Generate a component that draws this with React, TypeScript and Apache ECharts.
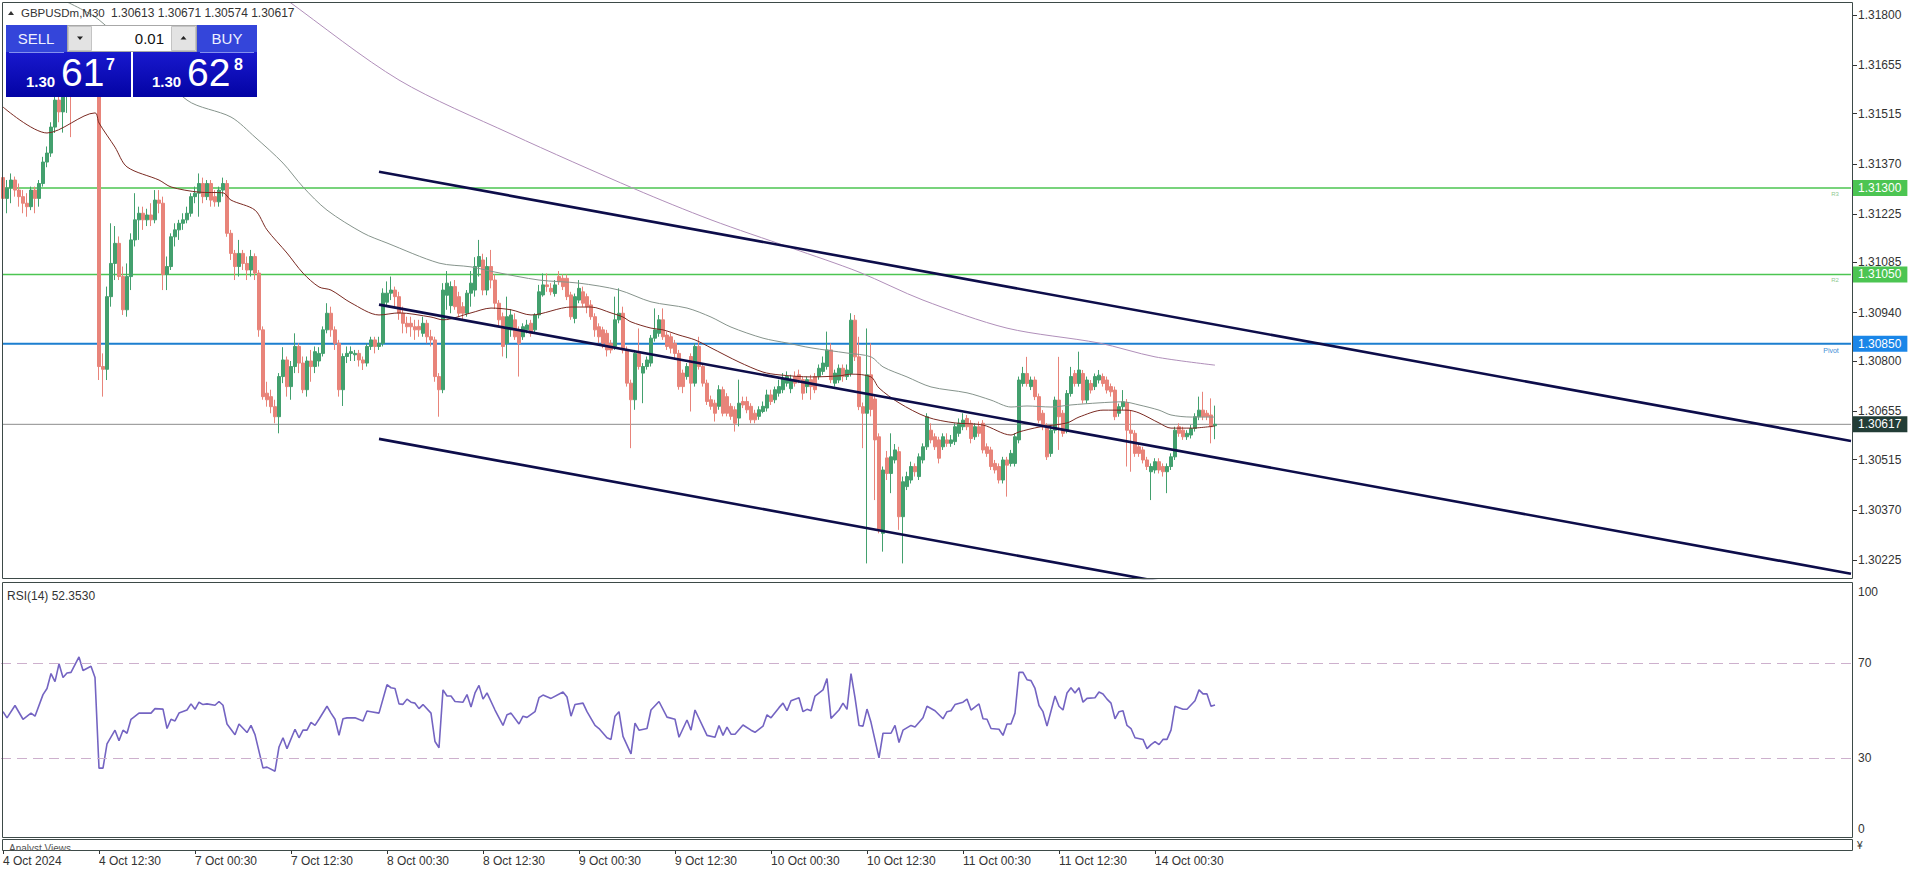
import React, { useEffect, useRef } from 'react';
import * as echarts from 'echarts';

// ---------- axis data ----------
const SLOT_COUNT = 463; // bars + empty future space (M30 slots)
const PRICE_MIN = 1.3017283;
const PRICE_MAX = 1.3183468;
const PRICE_TICKS = [1.30225, 1.3037, 1.30515, 1.30655, 1.308, 1.3094, 1.31085, 1.31225, 1.3137, 1.31515, 1.31655, 1.318];
const RSI_TICKS = [0, 30, 70, 100];
const TIME_LABELS: [number, string][] = [
  [0, '4 Oct 2024'], [24, '4 Oct 12:30'], [48, '7 Oct 00:30'], [72, '7 Oct 12:30'],
  [96, '8 Oct 00:30'], [120, '8 Oct 12:30'], [144, '9 Oct 00:30'], [168, '9 Oct 12:30'],
  [192, '10 Oct 00:30'], [216, '10 Oct 12:30'], [240, '11 Oct 00:30'], [264, '11 Oct 12:30'],
  [288, '14 Oct 00:30'],
];

// ---------- candles [open, close, low, high] ----------
const oct04 = [
  [1.3133, 1.3127, 1.31246, 1.31342], [1.3127, 1.313, 1.31227, 1.31323], [1.313, 1.31323, 1.31256, 1.31342],
  [1.31323, 1.31294, 1.31275, 1.31333], [1.31294, 1.31275, 1.31246, 1.31313], [1.31275, 1.31256, 1.31227, 1.31294],
  [1.31256, 1.31246, 1.31217, 1.31285], [1.31246, 1.31294, 1.31236, 1.31304], [1.31294, 1.3127, 1.31227, 1.31304],
  [1.3127, 1.31313, 1.31246, 1.31323], [1.31313, 1.31375, 1.31304, 1.3139], [1.31375, 1.31401, 1.3136, 1.3142],
  [1.31401, 1.31476, 1.3139, 1.3149], [1.31476, 1.31554, 1.31459, 1.31575], [1.31554, 1.3152, 1.3149, 1.3159],
  [1.3152, 1.3158, 1.3146, 1.3161], [1.3158, 1.316, 1.31517, 1.3163], [1.316, 1.3157, 1.31447, 1.3164],
  [1.3157, 1.3162, 1.31565, 1.3165], [1.3162, 1.316, 1.31575, 1.3166], [1.316, 1.31635, 1.3158, 1.3166],
  [1.31635, 1.31655, 1.316, 1.3169], [1.31655, 1.3162, 1.316, 1.3168], [1.3162, 1.31605, 1.3158, 1.3165],
  [1.31605, 1.30784, 1.30745, 1.3165], [1.30784, 1.30776, 1.30697, 1.30822], [1.30776, 1.30986, 1.30745, 1.31015],
  [1.30986, 1.31082, 1.30957, 1.31198], [1.31082, 1.3114, 1.31034, 1.3119], [1.3114, 1.31044, 1.31034, 1.3116],
  [1.31044, 1.30948, 1.30933, 1.31073], [1.30948, 1.31044, 1.30928, 1.31082], [1.31044, 1.3115, 1.31005, 1.31169],
  [1.3115, 1.31208, 1.31131, 1.31285], [1.31208, 1.31227, 1.3115, 1.31246], [1.31227, 1.31208, 1.31179, 1.31246],
  [1.31208, 1.31222, 1.3119, 1.3124], [1.31222, 1.31208, 1.3119, 1.31256], [1.31208, 1.31265, 1.31198, 1.31294],
  [1.31265, 1.31256, 1.31227, 1.31294], [1.31256, 1.3105, 1.31005, 1.31275], [1.3105, 1.31073, 1.31005, 1.31102],
  [1.31073, 1.31159, 1.31063, 1.31169], [1.31159, 1.31179, 1.31131, 1.31198], [1.31179, 1.31198, 1.3115, 1.31208],
  [1.31198, 1.31208, 1.31179, 1.31227], [1.31208, 1.31227, 1.31198, 1.31246],
];
const oct07 = [
  [1.31227, 1.31275, 1.31217, 1.31285], [1.31275, 1.31285, 1.31256, 1.31304], [1.31285, 1.31313, 1.31217, 1.31342],
  [1.31313, 1.31275, 1.31256, 1.3133], [1.31275, 1.31313, 1.31265, 1.31323], [1.31313, 1.31265, 1.31246, 1.31323],
  [1.31275, 1.3126, 1.31246, 1.31294], [1.3126, 1.31294, 1.31246, 1.31304], [1.31294, 1.31313, 1.31275, 1.3133],
  [1.31313, 1.31169, 1.31159, 1.31323], [1.31169, 1.31111, 1.31092, 1.31179], [1.31111, 1.31073, 1.31034, 1.31121],
  [1.31073, 1.31111, 1.31044, 1.3115], [1.31111, 1.31082, 1.31063, 1.31121], [1.31082, 1.31063, 1.31034, 1.31102],
  [1.31063, 1.31102, 1.31044, 1.31121], [1.31102, 1.31054, 1.31034, 1.31111], [1.31054, 1.3089, 1.3087, 1.31063],
  [1.3089, 1.30697, 1.30688, 1.309], [1.30707, 1.30688, 1.30668, 1.3074], [1.30697, 1.30668, 1.30649, 1.30717],
  [1.30668, 1.30639, 1.3062, 1.30688], [1.30639, 1.30755, 1.30591, 1.30765], [1.30755, 1.30803, 1.30736, 1.3084],
  [1.30803, 1.30726, 1.30697, 1.30813], [1.30726, 1.30784, 1.30688, 1.308], [1.30784, 1.30842, 1.30765, 1.3088],
  [1.30842, 1.30794, 1.30765, 1.30851], [1.30794, 1.30717, 1.30707, 1.30813], [1.30717, 1.308, 1.30697, 1.30813],
  [1.308, 1.30784, 1.3074, 1.30832], [1.30784, 1.30827, 1.30765, 1.30842], [1.308, 1.30822, 1.30784, 1.3084],
  [1.30822, 1.3089, 1.30813, 1.309], [1.3089, 1.30938, 1.3088, 1.30967], [1.30938, 1.3089, 1.3087, 1.30957],
  [1.3089, 1.30851, 1.30832, 1.309], [1.30851, 1.30717, 1.30697, 1.30861], [1.30717, 1.30813, 1.3067, 1.30822],
  [1.30813, 1.30822, 1.30794, 1.30842], [1.30822, 1.30827, 1.308, 1.30842], [1.30818, 1.30822, 1.308, 1.30832],
  [1.30822, 1.30803, 1.30784, 1.30832], [1.30803, 1.30794, 1.30774, 1.30813], [1.30794, 1.30842, 1.30784, 1.30851],
  [1.30842, 1.30861, 1.30832, 1.3087], [1.30861, 1.30842, 1.30822, 1.3087], [1.30842, 1.30851, 1.30832, 1.3087],
];
const oct08 = [
  [1.30851, 1.30996, 1.30842, 1.3101], [1.3097, 1.30996, 1.3096, 1.3103], [1.30996, 1.31005, 1.30976, 1.31044],
  [1.31005, 1.30986, 1.30957, 1.31015], [1.30986, 1.30938, 1.30919, 1.31], [1.30938, 1.30909, 1.3088, 1.30957],
  [1.30909, 1.30899, 1.3088, 1.30928], [1.30909, 1.30899, 1.3087, 1.30928], [1.30899, 1.3089, 1.30861, 1.30919],
  [1.309, 1.3089, 1.3087, 1.30919], [1.3088, 1.30909, 1.3087, 1.30928], [1.30909, 1.3087, 1.30851, 1.30919],
  [1.3087, 1.30861, 1.30842, 1.3089], [1.30861, 1.30755, 1.3074, 1.3087], [1.30755, 1.30717, 1.30639, 1.30765],
  [1.30717, 1.31005, 1.30707, 1.31025], [1.3099, 1.31025, 1.30948, 1.3106], [1.3096, 1.31015, 1.30938, 1.3103],
  [1.31015, 1.30957, 1.30948, 1.31034], [1.30986, 1.30938, 1.30928, 1.31], [1.30957, 1.30938, 1.30919, 1.3097],
  [1.30938, 1.30996, 1.30928, 1.31005], [1.30996, 1.31025, 1.30957, 1.3106], [1.31005, 1.31073, 1.30986, 1.311],
  [1.31073, 1.31102, 1.31044, 1.3115], [1.31092, 1.31005, 1.3099, 1.3111], [1.31005, 1.31073, 1.3099, 1.311],
  [1.31073, 1.31034, 1.3101, 1.31121], [1.31034, 1.30967, 1.3095, 1.3105], [1.30967, 1.30919, 1.309, 1.30976],
  [1.30928, 1.30842, 1.30813, 1.3094], [1.30851, 1.30928, 1.30808, 1.30986], [1.3089, 1.30933, 1.3087, 1.3095],
  [1.30919, 1.3087, 1.30861, 1.30938], [1.3089, 1.30851, 1.30755, 1.309], [1.3087, 1.30899, 1.30861, 1.30909],
  [1.3089, 1.30904, 1.3088, 1.30919], [1.30909, 1.3088, 1.3087, 1.30919], [1.3089, 1.30933, 1.3088, 1.30938],
  [1.30933, 1.31, 1.30923, 1.3102], [1.30991, 1.3102, 1.30986, 1.31053], [1.3102, 1.31015, 1.31, 1.31053],
  [1.3101, 1.31, 1.3099, 1.31025], [1.30995, 1.3102, 1.30986, 1.31034], [1.31044, 1.31029, 1.3102, 1.3106],
  [1.31039, 1.31015, 1.31005, 1.3105], [1.31039, 1.30986, 1.30976, 1.3105], [1.30991, 1.30928, 1.30919, 1.31],
];
const oct09 = [
  [1.30923, 1.30986, 1.30909, 1.30995], [1.30976, 1.3101, 1.30967, 1.31034], [1.31, 1.30967, 1.30957, 1.31015],
  [1.30986, 1.30957, 1.30938, 1.30995], [1.30962, 1.30928, 1.30919, 1.30976], [1.30928, 1.3089, 1.3087, 1.30938],
  [1.30899, 1.3087, 1.30851, 1.30909], [1.3089, 1.30851, 1.30837, 1.30899], [1.3088, 1.30832, 1.30813, 1.3089],
  [1.30851, 1.30832, 1.30822, 1.30861], [1.30842, 1.30919, 1.30832, 1.30986], [1.30919, 1.30938, 1.30909, 1.3101],
  [1.30938, 1.30832, 1.30822, 1.30957], [1.30832, 1.30736, 1.30726, 1.30842], [1.30736, 1.30688, 1.30548, 1.30746],
  [1.30688, 1.30822, 1.30659, 1.30832], [1.30822, 1.30784, 1.30775, 1.30894], [1.30765, 1.30784, 1.30678, 1.30794],
  [1.30784, 1.30803, 1.30775, 1.30813], [1.30794, 1.30866, 1.30784, 1.30875], [1.30866, 1.3089, 1.30856, 1.30952],
  [1.3088, 1.30919, 1.3087, 1.30933], [1.30919, 1.3087, 1.30861, 1.30952], [1.30875, 1.30842, 1.30832, 1.30885],
  [1.3087, 1.30837, 1.30822, 1.3088], [1.30851, 1.30822, 1.30803, 1.30861], [1.30822, 1.30726, 1.30717, 1.30832],
  [1.30765, 1.30726, 1.30707, 1.30775], [1.30755, 1.30784, 1.30746, 1.30794], [1.30813, 1.30736, 1.30654, 1.30822],
  [1.30736, 1.30842, 1.30726, 1.30851], [1.30842, 1.30784, 1.30775, 1.3087], [1.30784, 1.30736, 1.30726, 1.30794],
  [1.30736, 1.30683, 1.30673, 1.30746], [1.30688, 1.30669, 1.30659, 1.307], [1.30678, 1.30649, 1.30625, 1.30688],
  [1.30669, 1.30717, 1.30659, 1.3073], [1.30717, 1.30649, 1.3064, 1.30726], [1.30697, 1.30649, 1.3064, 1.30707],
  [1.30669, 1.3064, 1.3063, 1.30678], [1.30659, 1.3062, 1.30596, 1.30669], [1.30635, 1.30678, 1.30611, 1.30746],
  [1.30683, 1.30673, 1.30664, 1.30697], [1.30683, 1.30659, 1.30649, 1.30697], [1.30669, 1.3063, 1.3062, 1.30678],
  [1.30649, 1.3063, 1.3062, 1.30659], [1.3064, 1.30659, 1.3063, 1.30669], [1.30654, 1.30669, 1.30649, 1.30683],
];
const oct10 = [
  [1.30664, 1.30702, 1.30654, 1.30717], [1.30702, 1.30683, 1.30673, 1.30717], [1.30688, 1.30717, 1.30678, 1.30726],
  [1.30707, 1.30726, 1.30697, 1.30746], [1.30717, 1.3075, 1.30707, 1.30765], [1.30736, 1.30755, 1.30726, 1.3077],
  [1.3072, 1.30746, 1.30707, 1.3076], [1.30755, 1.30736, 1.30726, 1.3077], [1.3076, 1.30746, 1.30736, 1.30775],
  [1.30746, 1.30707, 1.30688, 1.30755], [1.30726, 1.30746, 1.30707, 1.30755], [1.30746, 1.30726, 1.30688, 1.3076],
  [1.30755, 1.30717, 1.30707, 1.30765], [1.30755, 1.30779, 1.30746, 1.3079], [1.3077, 1.30794, 1.3076, 1.30813],
  [1.30784, 1.30832, 1.30775, 1.30885], [1.30832, 1.30746, 1.30736, 1.30851], [1.30736, 1.30765, 1.30726, 1.30775],
  [1.30745, 1.30779, 1.30736, 1.3079], [1.30779, 1.30755, 1.3074, 1.3079], [1.30755, 1.30774, 1.30745, 1.3079],
  [1.30764, 1.30918, 1.30755, 1.30938], [1.30918, 1.30812, 1.308, 1.30933], [1.30812, 1.30668, 1.30658, 1.3087],
  [1.30668, 1.30649, 1.30548, 1.3068], [1.30649, 1.3076, 1.30215, 1.30894], [1.3076, 1.3066, 1.3064, 1.30851],
  [1.3069, 1.30572, 1.30398, 1.307], [1.30581, 1.30312, 1.30302, 1.30591], [1.30302, 1.30485, 1.30249, 1.30495],
  [1.3052, 1.30475, 1.30456, 1.3054], [1.30475, 1.30523, 1.30418, 1.30591], [1.30514, 1.30543, 1.30504, 1.3056],
  [1.30538, 1.3035, 1.30312, 1.30552], [1.3035, 1.30451, 1.30215, 1.30466], [1.30437, 1.30466, 1.30427, 1.3048],
  [1.30456, 1.30495, 1.30446, 1.30509], [1.30495, 1.3048, 1.30466, 1.30504], [1.30466, 1.30523, 1.30456, 1.30533],
  [1.30514, 1.30552, 1.30504, 1.30562], [1.30552, 1.30639, 1.30543, 1.30649], [1.306, 1.30572, 1.30562, 1.3062],
  [1.30581, 1.30552, 1.30543, 1.30591], [1.30572, 1.30519, 1.30504, 1.30581], [1.30552, 1.30581, 1.30543, 1.30591],
  [1.30572, 1.30562, 1.30552, 1.30591], [1.30562, 1.30572, 1.30552, 1.30586], [1.30567, 1.3061, 1.30557, 1.3062],
];
const oct11 = [
  [1.30591, 1.3062, 1.30581, 1.30634], [1.3061, 1.30629, 1.306, 1.30649], [1.30634, 1.3061, 1.306, 1.30644],
  [1.3062, 1.30576, 1.30562, 1.30629], [1.30581, 1.3061, 1.30572, 1.3062], [1.3061, 1.30591, 1.30581, 1.30625],
  [1.3062, 1.30543, 1.30533, 1.30629], [1.30552, 1.30533, 1.30523, 1.30562], [1.30543, 1.30495, 1.30485, 1.30552],
  [1.30504, 1.30485, 1.30475, 1.30514], [1.30495, 1.30456, 1.30446, 1.30504], [1.30456, 1.30514, 1.30446, 1.30523],
  [1.30514, 1.30499, 1.30408, 1.30523], [1.30504, 1.30533, 1.30495, 1.30543], [1.30504, 1.30581, 1.30495, 1.30591],
  [1.30572, 1.30745, 1.30562, 1.30755], [1.30735, 1.30764, 1.30726, 1.30783], [1.30764, 1.30735, 1.30726, 1.30812],
  [1.30726, 1.30745, 1.30716, 1.30755], [1.30745, 1.30697, 1.30687, 1.30755], [1.30697, 1.30629, 1.3062, 1.30706],
  [1.30649, 1.3061, 1.306, 1.30658], [1.3061, 1.30523, 1.30514, 1.3062], [1.30533, 1.306, 1.30523, 1.3061],
  [1.306, 1.30687, 1.30591, 1.30697], [1.30687, 1.30639, 1.30543, 1.30812], [1.30649, 1.30591, 1.30581, 1.30658],
  [1.306, 1.30706, 1.30591, 1.30716], [1.30706, 1.30755, 1.30697, 1.30783], [1.30764, 1.30735, 1.30726, 1.30774],
  [1.30735, 1.30774, 1.30726, 1.30827], [1.30764, 1.30687, 1.30677, 1.30774], [1.30687, 1.30745, 1.30677, 1.30755],
  [1.30735, 1.30716, 1.30706, 1.30745], [1.30726, 1.30755, 1.30716, 1.30764], [1.30745, 1.30759, 1.30735, 1.30774],
  [1.30755, 1.30735, 1.30726, 1.30764], [1.30745, 1.30716, 1.30706, 1.30755], [1.30726, 1.30711, 1.30697, 1.30735],
  [1.30716, 1.30639, 1.30629, 1.30726], [1.30649, 1.30668, 1.30639, 1.30677], [1.30668, 1.30682, 1.30658, 1.30716],
  [1.3068, 1.306, 1.30495, 1.3069], [1.306, 1.30591, 1.3048, 1.30658], [1.30591, 1.30533, 1.30523, 1.306],
  [1.30552, 1.30533, 1.30523, 1.30562], [1.30543, 1.30514, 1.30504, 1.30552], [1.30514, 1.30495, 1.30485, 1.30523],
];
const oct14 = [
  [1.3048, 1.30495, 1.30398, 1.30504], [1.30485, 1.30509, 1.30475, 1.30519], [1.30509, 1.30485, 1.30475, 1.30519],
  [1.30495, 1.3048, 1.30466, 1.30504], [1.3048, 1.30495, 1.30418, 1.30504], [1.30495, 1.30523, 1.30485, 1.30533],
  [1.30523, 1.306, 1.30514, 1.3061], [1.3061, 1.30591, 1.30581, 1.3062], [1.306, 1.30581, 1.30572, 1.3061],
  [1.30581, 1.30591, 1.30572, 1.306], [1.30586, 1.30605, 1.30576, 1.30615], [1.30605, 1.30639, 1.30596, 1.30649],
  [1.30639, 1.30658, 1.30629, 1.30697], [1.30658, 1.30639, 1.30629, 1.30711], [1.30649, 1.30639, 1.30629, 1.30658],
  [1.30644, 1.3061, 1.30562, 1.30692], [1.30613, 1.30617, 1.30574, 1.30671],
];

// ---------- moving averages [bar index, price] ----------
const MA_FAST: [number, number][] = [
  [0, 1.31534], [11, 1.31459], [23, 1.31517], [24, 1.31488], [28, 1.31418], [31, 1.31361], [39, 1.31323],
  [42, 1.31303], [49, 1.31288], [55, 1.31286], [57, 1.31265], [63, 1.31236], [66, 1.31179], [71, 1.31112],
  [75, 1.31054], [79, 1.31014], [82, 1.31005], [87, 1.30968], [94, 1.30933], [99, 1.30939], [107, 1.30927],
  [110, 1.30919], [117, 1.30939], [122, 1.30953], [127, 1.30948], [132, 1.30933], [142, 1.30956], [147, 1.30956],
  [152, 1.30939], [155, 1.30927], [157, 1.30913], [162, 1.30895], [165, 1.3089], [169, 1.30875], [173, 1.30861],
  [177, 1.30838], [184, 1.30797], [190, 1.30768], [194, 1.3076], [202, 1.30754], [209, 1.30757], [212, 1.30762],
  [217, 1.30754], [219, 1.30722], [224, 1.30679], [231, 1.30638], [238, 1.30621], [245, 1.30615], [252, 1.30586],
  [254, 1.30595], [259, 1.30609], [266, 1.30621], [269, 1.30638], [275, 1.30658], [281, 1.30658], [284, 1.3065],
  [289, 1.30621], [292, 1.30606], [297, 1.30606], [303, 1.30612],
];
const MA_MID: [number, number][] = [
  [15, 1.31843], [24, 1.31786], [46, 1.31554], [57, 1.31505], [63, 1.31447], [70, 1.31372], [75, 1.31303],
  [81, 1.31236], [90, 1.3117], [96, 1.31141], [109, 1.31083], [117, 1.31072], [123, 1.31057], [134, 1.31034],
  [144, 1.31025], [154, 1.31005], [162, 1.30971], [171, 1.30953], [177, 1.30927], [182, 1.30898], [190, 1.30866],
  [196, 1.30852], [202, 1.30838], [211, 1.30823], [217, 1.30812], [220, 1.30783], [226, 1.30754], [232, 1.30725],
  [241, 1.30708], [247, 1.30687], [252, 1.30667], [256, 1.3067], [262, 1.30667], [267, 1.30673], [274, 1.30679],
  [280, 1.30682], [284, 1.30673], [289, 1.30658], [292, 1.30644], [297, 1.30638], [303, 1.30638],
];
const MA_SLOW: [number, number][] = [
  [49, 1.3203], [71, 1.31843], [99, 1.31612], [127, 1.31456], [158, 1.31297], [177, 1.31208], [197, 1.31127],
  [214, 1.31057], [230, 1.30976], [251, 1.30895], [274, 1.30852], [288, 1.30812], [303, 1.30788],
];

// ---------- RSI(14) [bar index, value] ----------
const RSI_14: [number, number][] = [
  [0, 49.5], [1, 46.9], [3, 52.1], [5, 46.3], [7, 48.9], [8, 47.6], [10, 56.7], [11, 59.3], [12, 65.6], [13, 62.2],
  [14, 69.7], [15, 63.9], [16, 65.8], [17, 66.1], [19, 72.6], [20, 66.9], [22, 68.7], [23, 63.9], [24, 25.7],
  [25, 25.7], [26, 35.9], [28, 41.7], [29, 37.2], [30, 41.7], [31, 40.4], [32, 46.3], [34, 48.9], [37, 48.9],
  [38, 50.8], [40, 50.6], [41, 42.4], [42, 46.3], [43, 45.6], [44, 48.9], [46, 50.2], [47, 52.8], [48, 50.5],
  [49, 53.5], [50, 52.5], [51, 52.8], [53, 52.2], [54, 53.8], [55, 52.2], [56, 44.3], [58, 39.8], [59, 44.3],
  [61, 40.7], [62, 43.7], [63, 39.8], [65, 25.7], [66, 26.1], [68, 24.4], [69, 34.6], [70, 38.5], [71, 33.9],
  [73, 42.1], [74, 38.5], [75, 41.7], [76, 41.7], [77, 45], [78, 43.7], [79, 46.3], [81, 51.8], [82, 48.9],
  [83, 46.3], [84, 39.5], [85, 46.5], [86, 46.9], [88, 46.9], [90, 45.6], [91, 49.8], [92, 49.5], [94, 48.9],
  [96, 60.9], [97, 59.6], [98, 59.3], [99, 52.8], [100, 52.6], [101, 54.8], [102, 53.5], [103, 53.1], [104, 50.8],
  [105, 52.5], [107, 48.9], [108, 36.9], [109, 34.3], [110, 58.7], [111, 56.1], [112, 56.1], [113, 53.8],
  [115, 53.5], [116, 56.7], [117, 51.5], [118, 57.4], [119, 60.6], [120, 54.8], [121, 57.4], [123, 50.2],
  [125, 43.7], [126, 48.2], [127, 48.9], [129, 44.3], [130, 47.6], [131, 47.1], [133, 49.5], [134, 55.4],
  [135, 56.5], [137, 55.1], [140, 57.8], [141, 55.7], [142, 47.6], [143, 52.5], [145, 53.1], [146, 49.5],
  [148, 43.7], [149, 42.4], [151, 38.5], [152, 37.8], [153, 47.6], [154, 49.5], [155, 39.1], [157, 31.7],
  [158, 44.7], [159, 41.7], [161, 42.4], [162, 50.2], [164, 53.8], [166, 47.2], [168, 46.3], [169, 38.7],
  [171, 46], [172, 41.7], [173, 50.2], [176, 39.5], [178, 38.7], [179, 43.7], [180, 39.5], [181, 43], [182, 40],
  [183, 40], [185, 43.9], [187, 41.7], [188, 40.8], [190, 43.4], [191, 48.2], [192, 46.9], [194, 51.2],
  [195, 53.1], [196, 49.9], [197, 54.1], [199, 55.4], [200, 49.5], [201, 50.5], [202, 49.9], [203, 56.1],
  [205, 58.7], [206, 63.5], [207, 46.7], [209, 50.2], [210, 53.1], [211, 50.5], [212, 65.6], [213, 55.4],
  [214, 43.7], [215, 43.4], [216, 50.6], [217, 45], [219, 30], [220, 40.4], [222, 40.4], [223, 43.7], [224, 36.5],
  [225, 41.7], [227, 43.7], [228, 43], [230, 46.9], [231, 51.8], [233, 49.9], [235, 46.5], [236, 49.5],
  [237, 49.9], [238, 52.5], [240, 53.5], [241, 54.8], [242, 50.2], [244, 52.8], [245, 46.5], [246, 46.3],
  [247, 42.4], [249, 42.1], [250, 39.5], [251, 44.3], [252, 44.3], [253, 48.9], [254, 66.1], [255, 66.1],
  [256, 63], [257, 62.6], [258, 59.3], [259, 52.1], [260, 49.5], [261, 43.4], [263, 56.1], [264, 51.8],
  [265, 50.2], [266, 57.4], [267, 59.6], [268, 57.4], [269, 59.6], [270, 53.5], [271, 55.1], [273, 55.4],
  [274, 57.8], [275, 57], [276, 54.8], [277, 53.1], [278, 46.5], [279, 49.5], [280, 49.9], [281, 43.7],
  [282, 42.4], [283, 38.5], [285, 37.8], [286, 33.9], [287, 35.6], [288, 36.9], [289, 35.6], [290, 37.8],
  [291, 37.8], [292, 41.7], [293, 51.8], [295, 50.5], [296, 50.5], [298, 54.1], [299, 58.7], [300, 57],
  [301, 57], [302, 51.8], [303, 52.35],
];

// ---------- channel trendlines [bar index, price] ----------
const CHANNEL_UPPER: [number, number][] = [[94, 1.31347], [462, 1.30569]];
const CHANNEL_MID: [number, number][] = [[94, 1.30963], [462, 1.30185]];
const CHANNEL_LOW: [number, number][] = [[94, 1.30575], [462, 1.29797]];

// ---------- horizontal levels ----------
const LEVEL_NAMES = ['R3', 'R2', 'Pivot', ''];
const LEVEL_VALUES = [1.313, 1.3105, 1.3085, 1.30617];
const LEVEL_COLORS = ['#4cc552', '#4cc552', '#1c7fd0', '#8c8c8c'];
const LEVEL_TAG_BG = ['#4cc552', '#4cc552', '#1a86e8', '#223d36'];
const LEVEL_WIDTHS = [1.5, 1.5, 2, 1];
const LEVEL_NAME_SLOT = [458, 458, 457, 0];

const FONT = '"Liberation Sans", Arial, sans-serif';
const TXT = '#333333';

export default function App() {
  const ref = useRef<HTMLDivElement>(null);

  useEffect(() => {
    if (!ref.current) return;
    const chart = echarts.init(ref.current, undefined, { renderer: 'svg' });

    const ohlc = [...oct04, ...oct07, ...oct08, ...oct09, ...oct10, ...oct11, ...oct14].map(
      ([o, c, l, h]) => [o, c, Math.min(l, o, c), Math.max(h, o, c)]
    );
    const cats: string[] = Array.from({ length: SLOT_COUNT }, () => '');
    TIME_LABELS.forEach(([i, s]) => { cats[i] = s; });
    const isLabel = (_i: number, v: string) => v !== '';

    // one line series per horizontal level, across the whole price pane, with its price tag
    const levelSeries = LEVEL_VALUES.map((v, k) => {
      const data: any[] = [[0, v]];
      if (LEVEL_NAMES[k]) {
        data.push({
          value: [LEVEL_NAME_SLOT[k], v],
          label: {
            show: true, position: 'bottom', distance: 3, formatter: LEVEL_NAMES[k],
            color: k === 2 ? '#3f8fd6' : '#8fc98f', fontSize: k === 2 ? 7 : 6, fontFamily: FONT,
          },
        });
      }
      data.push([SLOT_COUNT - 1, v]);
      return {
        type: 'line', xAxisIndex: 0, yAxisIndex: 0, data, silent: true, z: 1,
        showSymbol: true, symbol: 'circle', symbolSize: 0,
        label: { show: false },
        lineStyle: { color: LEVEL_COLORS[k], width: LEVEL_WIDTHS[k] },
        endLabel: {
          show: true, formatter: v.toFixed(5), distance: 2,
          backgroundColor: LEVEL_TAG_BG[k], color: '#ffffff', fontSize: 12, fontFamily: FONT,
          padding: [2, 6, 1, 5], lineHeight: 13,
        },
      };
    });

    const navy = '#0d0d4a';
    const trend = (data: [number, number][]) => ({
      type: 'line', xAxisIndex: 0, yAxisIndex: 0, data, showSymbol: false, symbol: 'none',
      lineStyle: { color: navy, width: 2.6 }, z: 4, silent: true, clip: true,
    });
    const ma = (data: [number, number][], color: string) => ({
      type: 'line', xAxisIndex: 0, yAxisIndex: 0, data, showSymbol: false, symbol: 'none', smooth: 0.3,
      lineStyle: { color, width: 1 }, z: 3, silent: true, clip: true,
    });

    const grad = (c0: string, c1: string, c2: string) => new echarts.graphic.LinearGradient(0, 0, 0, 1, [
      { offset: 0, color: c0 }, { offset: 0.4, color: c1 }, { offset: 1, color: c2 },
    ]);

    const g: any[] = [
      // panel frames
      { type: 'rect', shape: { x: 2.5, y: 2.5, width: 1850, height: 576 }, style: { fill: 'none', stroke: '#3d4a48', lineWidth: 1 }, z: 50, silent: true },
      { type: 'rect', shape: { x: 2.5, y: 582.5, width: 1850, height: 255 }, style: { fill: 'none', stroke: '#3d4a48', lineWidth: 1 }, z: 50, silent: true },
      { type: 'rect', shape: { x: 2.5, y: 839.5, width: 1850, height: 11 }, style: { fill: 'none', stroke: '#3d4a48', lineWidth: 1 }, z: 50, silent: true },
      // header
      { type: 'polygon', shape: { points: [[8, 15], [14, 15], [11, 11]] }, style: { fill: '#333' }, z: 60 },
      { type: 'text', x: 21, y: 13, style: { text: 'GBPUSDm,M30', font: `11.5px ${FONT}`, fill: TXT, verticalAlign: 'middle' }, z: 60 },
      { type: 'text', x: 111, y: 13, style: { text: '1.30613 1.30671 1.30574 1.30617', font: `12px ${FONT}`, fill: TXT, verticalAlign: 'middle' }, z: 60 },
      // one click trading panel
      { type: 'rect', shape: { x: 6, y: 25, width: 125, height: 72 }, style: { fill: grad('#2c3ad8', '#1818cc', '#0303a4') }, z: 100 },
      { type: 'rect', shape: { x: 133, y: 25, width: 124, height: 72 }, style: { fill: grad('#2c3ad8', '#1818cc', '#0303a4') }, z: 100 },
      { type: 'rect', shape: { x: 6, y: 25, width: 61, height: 27 }, style: { fill: '#3445da' }, z: 101 },
      { type: 'rect', shape: { x: 197, y: 25, width: 60, height: 27 }, style: { fill: '#3445da' }, z: 101 },
      { type: 'line', shape: { x1: 9, y1: 52.5, x2: 64, y2: 52.5 }, style: { stroke: '#8490ee', lineWidth: 1 }, z: 102 },
      { type: 'line', shape: { x1: 200, y1: 52.5, x2: 254, y2: 52.5 }, style: { stroke: '#8490ee', lineWidth: 1 }, z: 102 },
      { type: 'line', shape: { x1: 132, y1: 25, x2: 132, y2: 97 }, style: { stroke: '#ffffff', lineWidth: 2 }, z: 102 },
      { type: 'rect', shape: { x: 67.5, y: 25.5, width: 129, height: 26 }, style: { fill: '#ffffff', stroke: '#a8a8a8', lineWidth: 1 }, z: 103 },
      { type: 'rect', shape: { x: 68.5, y: 26.5, width: 23, height: 24 }, style: { fill: '#e3e3e3', stroke: '#c4c4c4', lineWidth: 1 }, z: 104 },
      { type: 'rect', shape: { x: 171.5, y: 26.5, width: 24, height: 24 }, style: { fill: '#e3e3e3', stroke: '#c4c4c4', lineWidth: 1 }, z: 104 },
      { type: 'polygon', shape: { points: [[77, 36.5], [83, 36.5], [80, 40]] }, style: { fill: '#222' }, z: 105 },
      { type: 'polygon', shape: { points: [[180.5, 39.5], [186.5, 39.5], [183.5, 36]] }, style: { fill: '#222' }, z: 105 },
      { type: 'text', x: 164, y: 38.5, style: { text: '0.01', font: `15px ${FONT}`, fill: '#111', align: 'right', verticalAlign: 'middle' }, z: 105 },
      { type: 'text', x: 36, y: 38.5, style: { text: 'SELL', font: `15px ${FONT}`, fill: '#eef0ff', align: 'center', verticalAlign: 'middle' }, z: 105 },
      { type: 'text', x: 227, y: 38.5, style: { text: 'BUY', font: `15px ${FONT}`, fill: '#eef0ff', align: 'center', verticalAlign: 'middle' }, z: 105 },
      { type: 'text', x: 26, y: 89, style: { text: '1.30', font: `bold 15px ${FONT}`, fill: '#ffffff', verticalAlign: 'bottom' }, z: 105 },
      { type: 'text', x: 61, y: 92, style: { text: '61', font: `39px ${FONT}`, fill: '#ffffff', verticalAlign: 'bottom' }, z: 105 },
      { type: 'text', x: 106, y: 72, style: { text: '7', font: `bold 16px ${FONT}`, fill: '#ffffff', verticalAlign: 'bottom' }, z: 105 },
      { type: 'text', x: 152, y: 89, style: { text: '1.30', font: `bold 15px ${FONT}`, fill: '#ffffff', verticalAlign: 'bottom' }, z: 105 },
      { type: 'text', x: 187, y: 92, style: { text: '62', font: `39px ${FONT}`, fill: '#ffffff', verticalAlign: 'bottom' }, z: 105 },
      { type: 'text', x: 234, y: 72, style: { text: '8', font: `bold 16px ${FONT}`, fill: '#ffffff', verticalAlign: 'bottom' }, z: 105 },
      // RSI title
      { type: 'text', x: 7, y: 596, style: { text: 'RSI(14) 52.3530', font: `12px ${FONT}`, fill: TXT, verticalAlign: 'middle' }, z: 60 },
      // analyst views panel (text cut by the panel's bottom edge)
      { type: 'text', x: 9, y: 848.5, style: { text: 'Analyst Views', font: `10px ${FONT}`, fill: '#555', verticalAlign: 'middle' }, z: 60 },
      { type: 'rect', shape: { x: 6, y: 851, width: 92, height: 3.5 }, style: { fill: '#ffffff' }, z: 61 },
      { type: 'text', x: 1857, y: 845, style: { text: '¥', font: `10px ${FONT}`, fill: TXT, verticalAlign: 'middle' }, z: 60 },
    ];

    const option: any = {
      animation: false,
      backgroundColor: '#ffffff',
      textStyle: { fontFamily: FONT },
      grid: [
        { left: 1, top: 3, width: 1852, height: 575 },
        { left: 1, top: 592, width: 1852, height: 237 },
        { left: 1, top: 840, width: 1852, height: 10 },
      ],
      xAxis: [
        { type: 'category', gridIndex: 0, data: cats, boundaryGap: true, show: false },
        { type: 'category', gridIndex: 1, data: cats, boundaryGap: true, show: false },
        {
          type: 'category', gridIndex: 2, data: cats, boundaryGap: true, position: 'bottom',
          axisLine: { show: false },
          axisTick: { show: true, alignWithLabel: true, interval: isLabel, length: 4, lineStyle: { color: '#333' } },
          axisLabel: { interval: isLabel, align: 'left', margin: 5, fontSize: 12, color: TXT, fontFamily: FONT },
          splitLine: { show: false },
        },
      ],
      yAxis: [
        {
          type: 'value', gridIndex: 0, position: 'right', min: PRICE_MIN, max: PRICE_MAX, scale: true,
          axisLine: { show: false },
          axisTick: { show: true, length: 4, customValues: PRICE_TICKS, lineStyle: { color: '#333' } },
          axisLabel: { customValues: PRICE_TICKS, formatter: (v: number) => v.toFixed(5), fontSize: 12, color: TXT, margin: 5, fontFamily: FONT },
          splitLine: { show: false },
        },
        {
          type: 'value', gridIndex: 1, position: 'right', min: 0, max: 100,
          axisLine: { show: false }, axisTick: { show: false },
          axisLabel: { customValues: RSI_TICKS, fontSize: 12, color: TXT, margin: 5, fontFamily: FONT },
          splitLine: { show: false },
        },
        { type: 'value', gridIndex: 2, show: false },
      ],
      series: [
        ...levelSeries,
        {
          type: 'candlestick', xAxisIndex: 0, yAxisIndex: 0, data: ohlc, barWidth: 3, z: 2,
          itemStyle: { color: '#43a06e', color0: '#e8847a', borderColor: '#43a06e', borderColor0: '#e8847a', borderWidth: 1 },
        },
        ma(MA_SLOW, '#b08fba'),
        ma(MA_MID, '#86948c'),
        ma(MA_FAST, '#7a2a22'),
        trend(CHANNEL_UPPER),
        trend(CHANNEL_MID),
        trend(CHANNEL_LOW),
        {
          type: 'line', xAxisIndex: 1, yAxisIndex: 1, data: RSI_14, showSymbol: false, symbol: 'none',
          lineStyle: { color: '#7464c2', width: 1.6 }, z: 3, silent: true,
          markLine: {
            symbol: 'none', silent: true, label: { show: false },
            lineStyle: { color: '#cdb0cd', type: [10, 6], width: 1 },
            data: [{ yAxis: 70 }, { yAxis: 30 }],
          },
        },
      ],
      graphic: g,
    };

    chart.setOption(option);
    return () => chart.dispose();
  }, []);

  return (
    <div
      ref={ref}
      style={{ position: 'fixed', left: 0, top: 0, width: 1916, height: 874, background: '#fff' }}
    />
  );
}
